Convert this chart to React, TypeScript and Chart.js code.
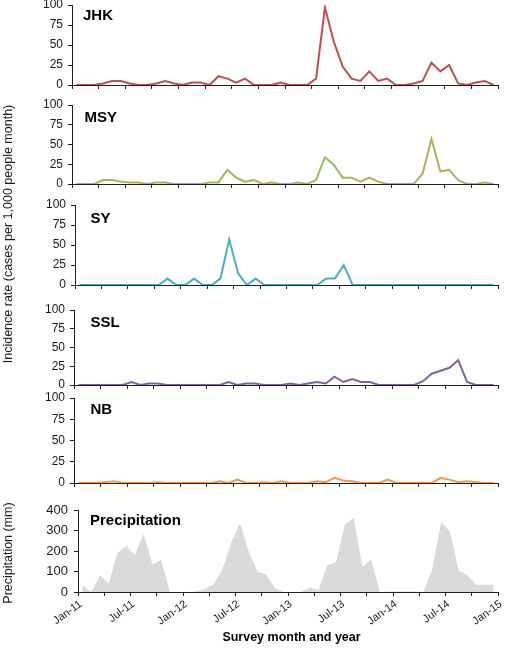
import React, { useEffect, useRef } from 'react';
import { Chart, registerables } from 'chart.js';

Chart.register(...registerables);

// ---------- data ----------
const surveyMonths = [
  'Jan-11','Feb-11','Mar-11','Apr-11','May-11','Jun-11','Jul-11','Aug-11','Sep-11','Oct-11','Nov-11','Dec-11',
  'Jan-12','Feb-12','Mar-12','Apr-12','May-12','Jun-12','Jul-12','Aug-12','Sep-12','Oct-12','Nov-12','Dec-12',
  'Jan-13','Feb-13','Mar-13','Apr-13','May-13','Jun-13','Jul-13','Aug-13','Sep-13','Oct-13','Nov-13','Dec-13',
  'Jan-14','Feb-14','Mar-14','Apr-14','May-14','Jun-14','Jul-14','Aug-14','Sep-14','Oct-14','Nov-14','Dec-14',
];
const xTickLabels = ['Jan-11','Jul-11','Jan-12','Jul-12','Jan-13','Jul-13','Jan-14','Jul-14','Jan-15'];
const incidenceTicks = [0, 25, 50, 75, 100];
const precipTicks = [0, 100, 200, 300, 400];

const jhk = [0,0,0,2,5,5,2,0,0,2, 5,2,0,3,3,0,11,8,3,8, 0,0,0,3,0,0,0,8,97,54, 23,8,5,17,5,8,0,0,2,5, 28,17,25,2,0,3,5,0];
const msy = [0,0,0,5,5,3,2,2,0,2, 2,0,0,0,0,2,2,18,8,3, 5,0,2,0,0,2,0,5,34,24, 8,8,3,8,3,0,0,0,0,13, 57,16,18,5,0,0,2,0];
const sy  = [0,0,0,0,0,0,0,0,0,0, 8,0,0,8,0,0,8,57,15,0, 8,0,0,0,0,0,0,0,8,8, 25,0,0,0,0,0,0,0,0,0, 0,0,0,0,0,0,0,0];
const ssl = [0,0,0,0,0,0,4,0,2,2, 0,0,0,0,0,0,0,4,0,2, 2,0,0,0,2,0,2,4,2,11, 4,8,4,4,0,0,0,0,0,5, 15,19,23,33,4,0,0,0];
const nb  = [0,0,0,1,2,0,0,0,0,1, 0,0,0,0,0,0,2,0,4,0, 0,1,0,2,0,0,0,2,1,6, 3,2,0,0,0,4,0,0,0,0, 0,6,4,1,2,1,0,0];
const precipitation = [33,0,80,40,190,225,180,283,135,157, 0,0,0,2,15,38,110,240,337,200, 100,85,20,0,0,0,22,10,130,146, 329,362,125,158,0,3,3,3,3,0, 113,342,295,105,80,35,35,35];

// ---------- layout ----------
const W = 507;
const FONT = "'Liberation Sans', Arial, Helvetica, sans-serif";
const AXIS = '#1f1f1f';
const TEXT = '#1a1a1a';

type Spec = {
  name: string;
  values: number[];
  ticks: number[];
  color: string;
  area: boolean;
  left: number;
  right: number;
  top: number;
  bottom: number;
  labels: boolean;
  titleX: number;
  titleY: number;
};

const panels: Spec[] = [
  { name: 'JHK', values: jhk, ticks: incidenceTicks, color: '#C0504D', area: false, left: 72, right: 498, top: 5, bottom: 85, labels: false, titleX: 83, titleY: 14.7 },
  { name: 'MSY', values: msy, ticks: incidenceTicks, color: '#9BBB59', area: false, left: 72, right: 498, top: 105, bottom: 184, labels: false, titleX: 84.5, titleY: 116.3 },
  { name: 'SY', values: sy, ticks: incidenceTicks, color: '#4BACC6', area: false, left: 75, right: 498, top: 205, bottom: 285, labels: false, titleX: 90.5, titleY: 217.2 },
  { name: 'SSL', values: ssl, ticks: incidenceTicks, color: '#8064A2', area: false, left: 74, right: 498, top: 310, bottom: 385, labels: false, titleX: 90.5, titleY: 321.7 },
  { name: 'NB', values: nb, ticks: incidenceTicks, color: '#F79646', area: false, left: 74, right: 498, top: 398, bottom: 483, labels: false, titleX: 90.5, titleY: 408.3 },
  { name: 'Precipitation', values: precipitation, ticks: precipTicks, color: '#DADADA', area: true, left: 78, right: 498, top: 510, bottom: 592, labels: true, titleX: 90, titleY: 519.5 },
];

const PAD = 8;

function Panel({ spec }: { spec: Spec }) {
  const ref = useRef<HTMLCanvasElement>(null);
  const xAxisH = spec.labels ? 42 : 8;
  const canvasTop = spec.top - PAD;
  const canvasH = spec.bottom - spec.top + PAD + xAxisH;

  useEffect(() => {
    const canvas = ref.current;
    if (!canvas) return;
    const yMax = spec.ticks[spec.ticks.length - 1];
    const yStep = spec.ticks[1] - spec.ticks[0];
    const points = spec.values.map((v, i) => ({ x: surveyMonths.indexOf(surveyMonths[i]) + 0.5, y: v }));
    const chart = new Chart(canvas, {
      type: 'line',
      data: {
        datasets: [
          {
            label: spec.name,
            data: points,
            borderColor: spec.color,
            backgroundColor: spec.color,
            borderWidth: spec.area ? 0 : 2,
            pointRadius: 0,
            fill: spec.area ? 'origin' : false,
            tension: 0,
          },
        ],
      },
      options: {
        animation: false,
        responsive: false,
        maintainAspectRatio: false,
        devicePixelRatio: 1,
        events: [],
        layout: { padding: { top: PAD, left: 0, right: W - spec.right, bottom: 0 } },
        plugins: {
          legend: { display: false },
          tooltip: { enabled: false },
          title: { display: false },
        },
        scales: {
          x: {
            type: 'linear',
            min: 0,
            max: 48,
            ticks: {
              display: spec.labels,
              stepSize: 3,
              autoSkip: false,
              maxRotation: 36,
              minRotation: 36,
              padding: 1.5,
              labelOffset: 3,
              color: TEXT,
              font: { family: FONT, size: 11 },
              callback: (v: any) => (Number(v) % 6 === 0 ? xTickLabels[Number(v) / 6] : ''),
            },
            grid: { display: true, drawOnChartArea: false, drawTicks: true, tickLength: 4, color: AXIS, lineWidth: 1 },
            border: { display: true, color: AXIS, width: 1 },
            afterFit: (s: any) => {
              s.height = xAxisH;
              s.paddingLeft = 0;
              s.paddingRight = 0;
            },
          },
          y: {
            min: 0,
            max: yMax,
            ticks: {
              stepSize: yStep,
              padding: spec.labels ? 6 : 5,
              color: TEXT,
              font: { family: FONT, size: spec.labels ? 13 : 12 },
            },
            grid: { display: true, drawOnChartArea: false, drawTicks: true, tickLength: 4, color: AXIS, lineWidth: 1 },
            border: { display: true, color: AXIS, width: 1 },
            afterFit: (s: any) => {
              s.width = spec.left;
              s.paddingTop = 0;
              s.paddingBottom = 0;
            },
          },
        },
      },
    } as any);
    return () => chart.destroy();
  }, []);

  return (
    <>
      <canvas
        ref={ref}
        width={W}
        height={canvasH}
        style={{ position: 'absolute', left: 0, top: canvasTop, width: W, height: canvasH, display: 'block' }}
      />
      <div
        style={{
          position: 'absolute',
          left: spec.titleX,
          top: spec.titleY - 7.4,
          font: `bold 15px ${FONT}`,
          lineHeight: '15px',
          color: '#000',
          whiteSpace: 'nowrap',
        }}
      >
        {spec.name}
      </div>
    </>
  );
}

function RotatedTitle({ text, cx, cy }: { text: string; cx: number; cy: number }) {
  return (
    <div
      style={{
        position: 'absolute',
        left: cx,
        top: cy,
        transform: 'translate(-50%, -50%) rotate(-90deg)',
        font: `12.5px ${FONT}`,
        lineHeight: '14px',
        color: TEXT,
        whiteSpace: 'nowrap',
      }}
    >
      {text}
    </div>
  );
}

export default function App() {
  return (
    <div style={{ position: 'fixed', left: 0, top: 0, width: W, height: 653, background: '#fff', overflow: 'hidden' }}>
      {panels.map((p) => (
        <Panel key={p.name} spec={p} />
      ))}
      <RotatedTitle text="Incidence rate (cases per 1,000 people month)" cx={8} cy={233.5} />
      <RotatedTitle text="Precipitation (mm)" cx={8} cy={552.5} />
      <div
        style={{
          position: 'absolute',
          left: 291.5,
          top: 636.7,
          transform: 'translate(-50%, -50%)',
          font: `bold 12.5px ${FONT}`,
          lineHeight: '14px',
          color: '#000',
          whiteSpace: 'nowrap',
        }}
      >
        Survey month and year
      </div>
    </div>
  );
}
